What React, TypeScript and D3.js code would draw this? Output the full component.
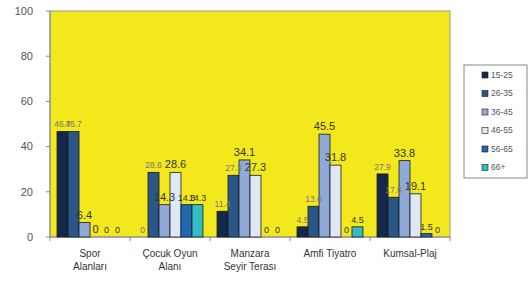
import React from 'react';
import * as d3 from 'd3';

// categories (two-line labels) and series
const categories = ['Spor Alanları', 'Çocuk Oyun Alanı', 'Manzara Seyir Terası', 'Amfi Tiyatro', 'Kumsal-Plaj'];
const categoryLines = [['Spor', 'Alanları'], ['Çocuk Oyun', 'Alanı'], ['Manzara', 'Seyir Terası'], ['Amfi Tiyatro'], ['Kumsal-Plaj']];
const seriesNames = ['15-25', '26-35', '36-45', '46-55', '56-65', '66+'];
const seriesColors = ['#14294a', '#2b5788', '#8eaad8', '#dfe8f6', '#1f68b2', '#33bcc4'];

// values per category, one entry per series
const s1525 = [46.7, 0, 11.4, 4.5, 27.9];
const s2635 = [46.7, 28.6, 27.3, 13.6, 17.6];
const s3645 = [6.4, 14.3, 34.1, 45.5, 33.8];
const s4655 = [0, 28.6, 27.3, 31.8, 19.1];
const s5665 = [0, 14.3, 0, 0, 1.5];
const s66 = [0, 14.3, 0, 4.5, 0];
const seriesValues = [s1525, s2635, s3645, s4655, s5665, s66];

const yTicks = [0, 20, 40, 60, 80, 100];

// label styling per series (faint small for first two, darker for the rest)
const labelSize = [8.5, 8.5, 11, 11, 9, 9];
const labelFill = ['#777', '#777', '#333', '#333', '#333', '#333'];

const fmt = (v: number) => (v === 0 ? '0' : v.toFixed(1));

export default function App() {
  const left = 50, right = 450, top = 11, bottom = 237;

  const x0 = d3.scaleBand<string>().domain(categories).range([left, right]).paddingInner(0).paddingOuter(0);
  const x1 = d3.scaleBand<string>().domain(seriesNames).range([0, x0.bandwidth()]).paddingInner(0).paddingOuter(0.64);
  const y = d3.scaleLinear().domain([0, 100]).range([bottom, top]);

  return (
    <svg width={532} height={282} style={{ position: 'absolute', left: 0, top: 0, fontFamily: 'Liberation Sans, Arial, sans-serif' }}>
      <rect x={0} y={0} width={532} height={282} fill="#fff" />
      {/* plot area */}
      <rect x={left} y={top} width={right - left} height={bottom - top} fill="#f2e81c" stroke="#9a9a9a" strokeWidth={1} />

      {/* y axis */}
      <line x1={left} x2={left} y1={top} y2={bottom} stroke="#888" />
      {yTicks.map(t => (
        <g key={t}>
          <line x1={left - 4} x2={left} y1={y(t)} y2={y(t)} stroke="#888" />
          <text x={33} y={y(t)} dy="0.35em" textAnchor="end" fontSize={11} fill="#555">{t}</text>
        </g>
      ))}

      {/* x axis */}
      <line x1={left} x2={right} y1={bottom} y2={bottom} stroke="#888" />
      {categories.map(c => (
        <line key={'t' + c} x1={x0(c)!} x2={x0(c)!} y1={bottom} y2={bottom + 4} stroke="#888" />
      ))}
      <line x1={right} x2={right} y1={bottom} y2={bottom + 4} stroke="#888" />

      {/* bars */}
      {categories.map((c, ci) => (
        <g key={c} transform={`translate(${x0(c)},0)`}>
          {seriesNames.map((s, si) => {
            const v = seriesValues[si][ci];
            return (
              <rect key={s} x={x1(s)!} y={y(v)} width={x1.bandwidth()} height={bottom - y(v)}
                fill={seriesColors[si]} stroke="#1a1a1a" strokeWidth={0.8} />
            );
          })}
        </g>
      ))}

      {/* value labels */}
      {categories.map((c, ci) => (
        <g key={'l' + c} transform={`translate(${x0(c)},0)`}>
          {seriesNames.map((s, si) => {
            const v = seriesValues[si][ci];
            return (
              <text key={s} x={x1(s)! + x1.bandwidth() / 2} y={y(v) - 4} textAnchor="middle"
                fontSize={labelSize[si]} fill={labelFill[si]}>{fmt(v)}</text>
            );
          })}
        </g>
      ))}

      {/* category labels */}
      {categories.map((c, ci) => (
        <text key={'c' + c} x={x0(c)! + x0.bandwidth() / 2} y={257} textAnchor="middle" fontSize={10} fill="#333">
          {categoryLines[ci].map((ln, li) => (
            <tspan key={li} x={x0(c)! + x0.bandwidth() / 2} dy={li === 0 ? 0 : 13}>{ln}</tspan>
          ))}
        </text>
      ))}

      {/* legend */}
      <rect x={464} y={65} width={63} height={113} fill="#fff" stroke="#888" />
      {seriesNames.map((s, si) => (
        <g key={'lg' + s} transform={`translate(482,${75 + si * 18.5})`}>
          <rect x={0} y={-3} width={6} height={6} fill={seriesColors[si]} stroke="#1a1a1a" strokeWidth={0.6} />
          <text x={9} y={0} dy="0.35em" fontSize={8.5} fill="#555">{s}</text>
        </g>
      ))}
    </svg>
  );
}
